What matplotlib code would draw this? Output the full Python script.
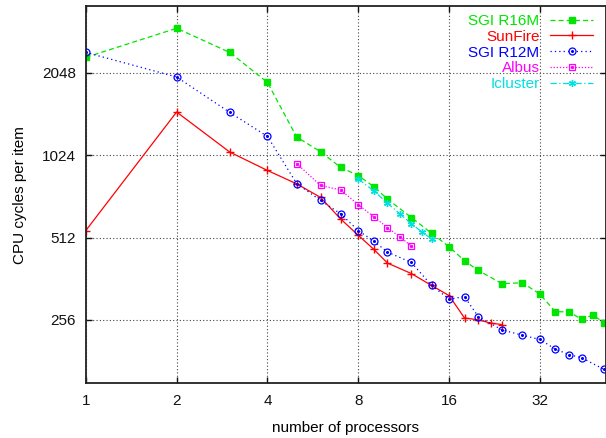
import matplotlib
matplotlib.use('Agg')
import matplotlib.pyplot as plt
from matplotlib.legend_handler import HandlerTuple

plt.rcParams['font.family'] = ['Liberation Sans', 'DejaVu Sans']

# data
procs_r16 = [1, 2, 3, 4, 5, 6, 7, 8, 9, 10, 12, 14, 16, 18, 20, 24, 28, 32, 36, 40, 44, 48, 52]
cycles_r16 = [2336, 2984, 2435, 1892, 1194, 1055, 924, 863, 787, 708, 606, 531, 474, 421, 388,
              347, 350, 318, 274, 274, 257, 267, 250]

procs_sun = [1, 2, 3, 4, 5, 6, 7, 8, 9, 10, 12, 14, 16, 18, 20, 22, 24]
cycles_sun = [543, 1474, 1052, 901, 805, 718, 598, 522, 464, 413, 378, 342, 314, 260, 256, 249, 246]

procs_r12 = [1, 2, 3, 4, 5, 6, 7, 8, 9, 10, 12, 14, 16, 18, 20, 24, 28, 32, 36, 40, 44, 52]
cycles_r12 = [2435, 1980, 1469, 1200, 807, 700, 625, 543, 497, 453, 415, 342, 305, 311, 263,
              235, 225, 217, 200, 191, 186, 169]

procs_albus = [5, 6, 7, 8, 9, 10, 11, 12]
cycles_albus = [955, 794, 764, 676, 610, 557, 514, 477]

procs_iclu = [8, 9, 10, 11, 12, 13, 14]
cycles_iclu = [838, 759, 684, 625, 575, 537, 506]

x_ticks = [1, 2, 4, 8, 16, 32]
y_ticks = [256, 512, 1024, 2048]

GREEN = '#00e600'
RED = '#ff0000'
BLUE = '#0000ff'
MAGENTA = '#ff00ff'
CYAN = '#00e0e0'

fig = plt.figure(figsize=(6.06, 4.38), dpi=100)
ax = fig.add_axes([85.8 / 606, 1 - 383.3 / 438, (606 - 85.8) / 606, (383.3 - 6) / 438])
ax.set_xscale('log', base=2)
ax.set_yscale('log', base=2)

lw = 0.9
l1, = ax.plot(procs_r16, cycles_r16, color=GREEN, lw=lw, ls=(0, (4, 2.5)),
              marker='s', ms=4.5, mfc=GREEN, mec=GREEN, label='SGI R16M')
l2, = ax.plot(procs_sun, cycles_sun, color=RED, lw=lw, ls='-',
              marker='+', ms=6, mew=1.0, label='SunFire')
l3, = ax.plot(procs_r12, cycles_r12, color=BLUE, lw=lw, ls=(0, (1, 2.5)),
              marker='o', ms=5, mfc='none', mew=0.9)
d3, = ax.plot(procs_r12, cycles_r12, ls='none', marker='o', ms=1.2, color=BLUE)
l4, = ax.plot(procs_albus, cycles_albus, color=MAGENTA, lw=lw, ls=(0, (1, 1.5)),
              marker='s', ms=5, mfc='none', mew=0.9)
d4, = ax.plot(procs_albus, cycles_albus, ls='none', marker='s', ms=1.2, color=MAGENTA)
l5, = ax.plot(procs_iclu, cycles_iclu, color=CYAN, lw=lw, ls=(0, (5, 2, 1, 2)),
              marker=(6, 2, 0), ms=5, mew=1.0)

ax.set_xlim(1, 53)
ax.set_ylim(150, 3600)
ax.set_xticks(x_ticks)
ax.set_xticklabels([str(t) for t in x_ticks])
ax.set_yticks(y_ticks)
ax.set_yticklabels([str(t) for t in y_ticks])
ax.minorticks_off()

ax.grid(True, color='#444444', ls=(0, (1, 2)), lw=0.8)
ax.tick_params(direction='in', length=4, width=1.0, top=True, right=True,
               labelsize=11, colors='#111111')
ax.tick_params(axis='x', pad=7.5)
ax.tick_params(axis='y', pad=7)
for sp in ax.spines.values():
    sp.set_linewidth(1.3)
    sp.set_color('#222222')

ax.set_xlabel('number of processors', fontsize=11)
ax.set_ylabel('CPU cycles per item', fontsize=11)
ax.xaxis.set_label_coords(0.5, -0.1177)
ax.xaxis.label.set_va('center')
ax.yaxis.set_label_coords(-0.1265, 0.5)
ax.yaxis.label.set_va('center')

leg = ax.legend([l1, l2, (l3, d3), (l4, d4), l5],
                ['SGI R16M', 'SunFire', 'SGI R12M', 'Albus', 'Icluster'],
                handler_map={tuple: HandlerTuple(ndivide=1)}, numpoints=1,
                loc='upper right', bbox_to_anchor=(0.975, 0.979), frameon=False,
                markerfirst=False, fontsize=11, handlelength=2.8, handletextpad=0.7,
                labelspacing=0.12, borderpad=0, borderaxespad=0)
for txt, c in zip(leg.get_texts(), [GREEN, RED, BLUE, MAGENTA, CYAN]):
    txt.set_color(c)

fig.savefig('out.png', dpi=100)
